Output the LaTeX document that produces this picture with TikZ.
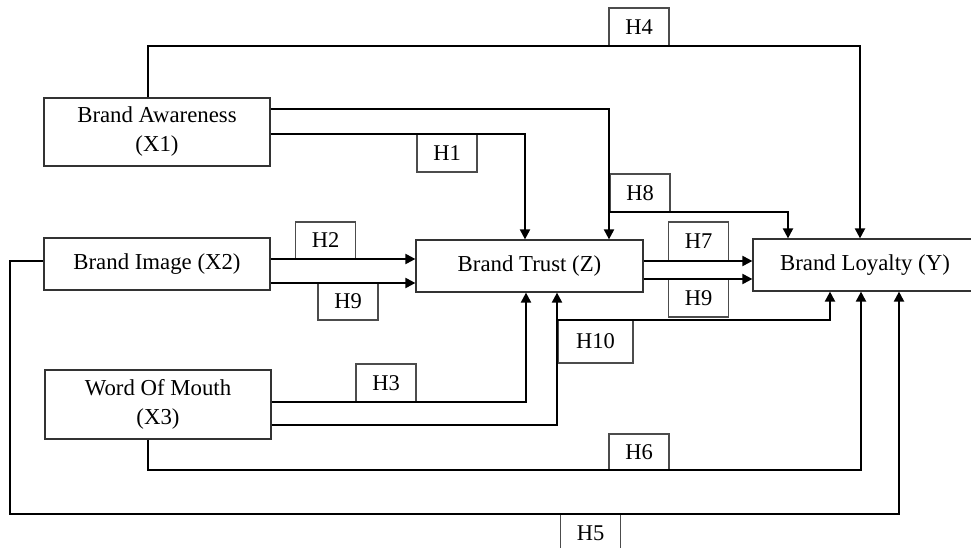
\documentclass[tikz,border=0pt]{standalone}
\usepackage{fontspec}
\setmainfont{Liberation Serif}
\usetikzlibrary{arrows.meta}
\begin{document}
\begin{tikzpicture}[x=1pt,y=-1pt,
  box/.style={draw=black!80, line width=1.2pt, fill=white, inner sep=0pt, align=center,
    font=\fontsize{22.8}{29}\selectfont},
  hbox/.style={draw=black!70, line width=1.1pt, fill=white, inner sep=0pt,
    minimum width=60pt, minimum height=38pt, font=\fontsize{22.5}{27}\selectfont},
  conn/.style={line width=2pt, black},
  arr/.style={conn, -{Triangle[length=10pt,width=10pt]}}]
\useasboundingbox (0,0) rectangle (971,548);

% main boxes
\node[box, minimum width=226pt, minimum height=68pt] (BA) at (157,132) {Brand Awareness\\(X1)};
\node[box, minimum width=226pt, minimum height=52pt] (BI) at (157,264) {Brand Image (X2)};
\node[box, minimum width=226pt, minimum height=69pt] (WOM) at (158,404.5) {Word Of Mouth\\(X3)};
\node[box, minimum width=227pt, minimum height=52pt] (BT) at (529.5,266) {Brand Trust (Z)};
\node[box, minimum width=224pt, minimum height=52pt] (BL) at (865,265) {Brand Loyalty (Y)};

% hypothesis labels
\node[hbox] (H4) at (639,27) {H4};
\node[hbox] (H1) at (447,153) {H1};
\node[hbox] (H8) at (640,193) {H8};
\node[hbox, minimum height=37pt] (H2) at (325.5,240.5) {H2};
\node[hbox, minimum height=37pt] (H9a) at (348,301.5) {H9};
\node[hbox, minimum height=39pt] (H7) at (698.5,241.5) {H7};
\node[hbox] (H9b) at (698.5,298) {H9};
\node[hbox, minimum width=75pt, minimum height=43pt] (H10) at (595.5,341.5) {H10};
\node[hbox] (H3) at (386,383) {H3};
\node[hbox, minimum height=36pt] (H6) at (639,452) {H6};
\node[hbox] (H5) at (590.5,533) {H5};

% routing points
\coordinate (a1) at (148,46);
\coordinate (a2) at (860,46);
\coordinate (b1) at (609,109);
\coordinate (c1) at (609,212);
\coordinate (c2) at (788,212);
\coordinate (d1) at (525,134);
\coordinate (e1) at (0,259);
\coordinate (e2) at (0,283);
\coordinate (f1) at (0,261);
\coordinate (f2) at (0,279);
\coordinate (g1) at (526,402);
\coordinate (h1) at (557,425);
\coordinate (h2) at (557,320);
\coordinate (h3) at (830,320);
\coordinate (i1) at (148,470);
\coordinate (i2) at (861,470);
\coordinate (j0) at (0,261);
\coordinate (j1) at (10,261);
\coordinate (j2) at (10,514);
\coordinate (j3) at (899,514);

% H4
\draw[arr] (BA.north -| a1) -- (a1) -- (a2) -- (BL.north -| a2);
% Brand Awareness -> Brand Trust (upper, via H8 branch)
\draw[arr] (BA.east |- b1) -- (b1) -- (BT.north -| b1);
% H8
\draw[arr] (c1) -- (c2) -- (BL.north -| c2);
% H1
\draw[arr] (BA.east |- d1) -- (d1) -- (BT.north -| d1);
% H2, H9
\draw[arr] (BI.east |- e1) -- (BT.west |- e1);
\draw[arr] (BI.east |- e2) -- (BT.west |- e2);
% H7, H9
\draw[arr] (BT.east |- f1) -- (BL.west |- f1);
\draw[arr] (BT.east |- f2) -- (BL.west |- f2);
% H3
\draw[arr] (WOM.east |- g1) -- (g1) -- (BT.south -| g1);
% Word of Mouth -> Brand Trust (lower), H10 branch
\draw[arr] (WOM.east |- h1) -- (h1) -- (BT.south -| h1);
\draw[arr] (h2) -- (h3) -- (BL.south -| h3);
% H6
\draw[arr] (WOM.south -| i1) -- (i1) -- (i2) -- (BL.south -| i2);
% H5
\draw[arr] (BI.west |- j0) -- (j1) -- (j2) -- (j3) -- (BL.south -| j3);
\end{tikzpicture}
\end{document}
